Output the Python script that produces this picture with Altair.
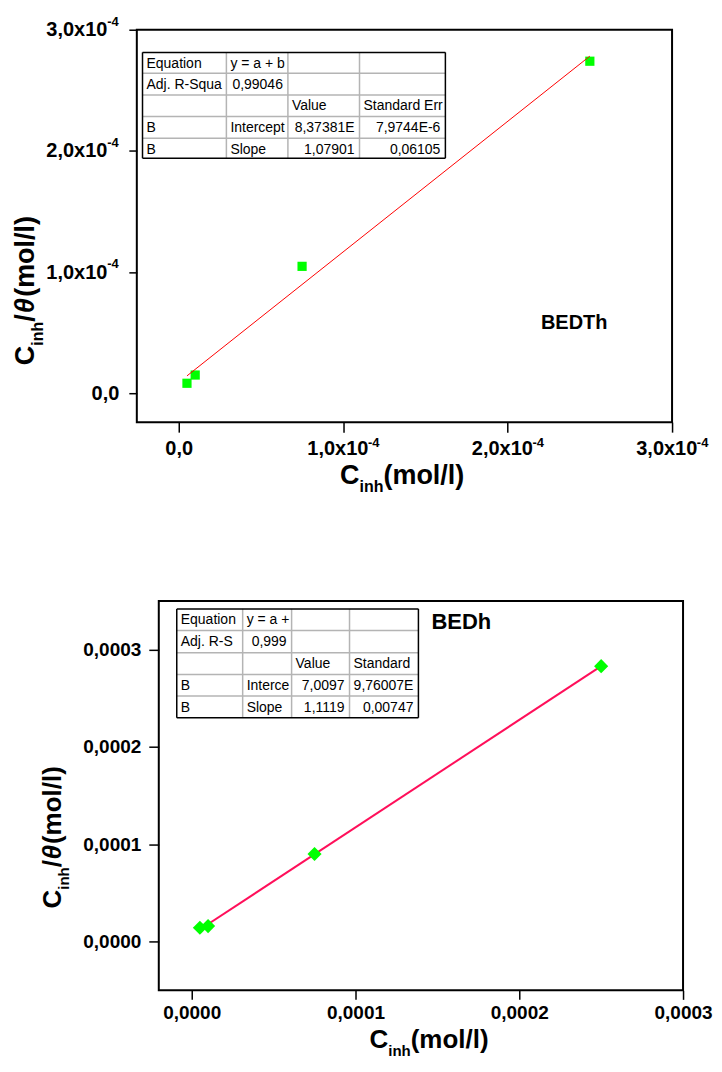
import json
import altair as alt
import pandas as pd

FONT = "Liberation Sans"

# ---------------- data ----------------
c_inh = [5.0e-6, 1.0e-5, 7.5e-5, 2.5e-4]
bedth_ratio = [8.2e-6, 1.5e-5, 1.047e-4, 2.74e-4]
bedh_ratio = [1.43e-5, 1.6e-5, 9.0e-5, 2.83e-4]

top_ticks = [0, 1e-4, 2e-4, 3e-4]
top_tick_labels = ["0,0", "1,0x10", "2,0x10", "3,0x10"]
top_tick_exps = ["", "-4", "-4", "-4"]
bot_ticks = [0, 1e-4, 2e-4, 3e-4]
bot_tick_labels = ["0,0000", "0,0001", "0,0002", "0,0003"]

top_table = [
    ["Equation", "y = a + b", "", ""],
    ["Adj. R-Squa", "0,99046", "", ""],
    ["", "", "Value", "Standard Err"],
    ["B", "Intercept", "8,37381E", "7,9744E-6"],
    ["B", "Slope", "1,07901", "0,06105"],
]
bot_table = [
    ["Equation", "y = a +", "", ""],
    ["Adj. R-S", "0,999", "", ""],
    ["", "", "Value", "Standard"],
    ["B", "Interce", "7,0097", "9,76007E"],
    ["B", "Slope", "1,1119", "0,00747"],
]
top_name = "BEDTh"
bot_name = "BEDh"

# ---------------- layout (pixels) ----------------
TOP_W, TOP_H = 536, 393
BOT_W, BOT_H = 525, 390
TOP_XDOM = [-2.55e-5, 3e-4]
TOP_YDOM = [-2.39e-5, 3e-4]
BOT_XDOM = [-2.01e-5, 3e-4]
BOT_YDOM = [-5e-5, 3.5e-4]

TOP_COLS = [5.7, 89.7, 151.3, 223, 309]
TOP_ROWS = [22.7, 43.7, 65.3, 87, 108.7, 128.7]
BOT_COLS = [18, 84, 133, 191, 260]
BOT_ROWS = [8, 29.7, 52, 73.7, 95.3, 117]

ONE = pd.DataFrame({"a": [0]})


def piece(text, x, y, size, angle=0, style="normal", align="left",
          baseline="alphabetic", weight="bold"):
    return alt.Chart(ONE).mark_text(
        text=text, fontSize=size, angle=angle, align=align, baseline=baseline,
        font=FONT, fontWeight=weight, fontStyle=style, color="black"
    ).encode(x=alt.value(x), y=alt.value(y))


def table_layers(cells, cols, rows, size, base_off):
    inner, outer = [], []
    for i, yv in enumerate(rows):
        rec = dict(x=cols[0], x2=cols[-1], y=yv, y2=yv)
        (outer if i in (0, len(rows) - 1) else inner).append(rec)
    for j, xv in enumerate(cols):
        rec = dict(x=xv, x2=xv, y=rows[0], y2=rows[-1])
        (outer if j in (0, len(cols) - 1) else inner).append(rec)
    lefts, rights = [], []
    for i, row in enumerate(cells):
        for j, t in enumerate(row):
            if not t:
                continue
            yv = rows[i] + base_off
            if t[0].isdigit():
                rights.append(dict(x=cols[j + 1] - 5, y=yv, t=t))
            else:
                lefts.append(dict(x=cols[j] + 4, y=yv, t=t))

    def rules(recs, color, w):
        return alt.Chart(pd.DataFrame(recs)).mark_rule(color=color, strokeWidth=w).encode(
            x=alt.X("x:Q", scale=None, axis=None), x2="x2:Q",
            y=alt.Y("y:Q", scale=None, axis=None), y2="y2:Q")

    def texts(recs, align):
        return alt.Chart(pd.DataFrame(recs)).mark_text(
            align=align, baseline="alphabetic", font=FONT, fontSize=size, color="black"
        ).encode(x=alt.X("x:Q", scale=None, axis=None),
                 y=alt.Y("y:Q", scale=None, axis=None), text="t:N")

    return [rules(inner, "#b4b4b4", 1.5), rules(outer, "#000000", 1.5),
            texts(lefts, "left"), texts(rights, "right")]


def label_expr(labels):
    return json.dumps(labels, ensure_ascii=False) + "[round(datum.value*10000)]"


def make_axis(ticks, labels, size, tick, pad, offset=0):
    return alt.Axis(values=ticks, labelExpr=label_expr(labels), title=None,
                    grid=False, domain=False, tickSize=tick, tickWidth=1.5,
                    tickColor="black", labelFont=FONT, labelFontSize=size,
                    labelFontWeight="bold", labelColor="black", labelPadding=pad,
                    labelOffset=offset,
                    labelOverlap=False, labelFlush=False, labelBound=False)


def spacer(w):
    return alt.Chart(ONE).mark_rule(strokeWidth=0, opacity=0).encode(
        x=alt.value(0), x2=alt.value(w), y=alt.value(0)
    ).properties(width=w, height=1)


# ---------------- top panel ----------------
top_df = pd.DataFrame({"c": c_inh, "v": bedth_ratio})
tx = alt.Scale(domain=TOP_XDOM, nice=False, zero=False)
ty = alt.Scale(domain=TOP_YDOM, nice=False, zero=False)
is_zero = "datum.value === 0"
x_off = {"condition": {"test": is_zero, "value": 0}, "value": -5.8}
y_pad = {"condition": {"test": is_zero, "value": 10}, "value": 22}
top_xaxis = make_axis(top_ticks, top_tick_labels, 20, 10, 6, x_off)
top_yaxis = make_axis(top_ticks, top_tick_labels, 20, 8, y_pad)

top_pts = alt.Chart(top_df).mark_point(
    shape="square", size=85, filled=True, color="#00ff00", opacity=1
).encode(
    x=alt.X("c:Q", scale=tx, axis=top_xaxis),
    y=alt.Y("v:Q", scale=ty, axis=top_yaxis),
)
top_fit = alt.Chart(top_df).transform_regression("c", "v").mark_line(
    color="#ff0000", strokeWidth=1).encode(x="c:Q", y="v:Q")

exp_df_x = pd.DataFrame({"c": top_ticks, "s": top_tick_exps})
exp_df_y = pd.DataFrame({"v": top_ticks, "s": top_tick_exps})
top_exp_x = alt.Chart(exp_df_x).mark_text(
    align="left", baseline="alphabetic", dx=24.8, font=FONT, fontSize=13,
    fontWeight="bold", color="black"
).encode(x=alt.X("c:Q", scale=tx, axis=top_xaxis), y=alt.value(418), text="s:N")
top_exp_y = alt.Chart(exp_df_y).mark_text(
    align="right", baseline="alphabetic", dy=-4, font=FONT, fontSize=13,
    fontWeight="bold", color="black"
).encode(y=alt.Y("v:Q", scale=ty, axis=top_yaxis), x=alt.value(-18), text="s:N")

top_anchor = alt.Chart(ONE).mark_rule(strokeWidth=0, opacity=0).encode(
    x=alt.value(-127), y=alt.value(-20), y2=alt.value(493))

top_titles = [
    piece("C", -102.5, 336, 27, angle=270),
    piece("inh", -94, 316.5, 16, angle=270),
    piece("/", -102.5, 292.5, 27, angle=270),
    piece("θ", -102.5, 284, 27, angle=270, style="italic"),
    piece("(mol/l)", -102.5, 267.5, 27, angle=270),
    piece("C", 203.5, 455, 27),
    piece("inh", 223, 463, 16),
    piece("(mol/l)", 247, 455, 27),
    piece(top_name, 438, 294, 20, align="center", baseline="middle"),
]

top_panel = alt.layer(
    top_anchor, *table_layers(top_table, TOP_COLS, TOP_ROWS, 14, 15.5),
    top_pts, top_fit, top_exp_x, top_exp_y, *top_titles
).properties(width=TOP_W, height=TOP_H,
             view=alt.ViewBackground(stroke="black", strokeWidth=2))

# ---------------- bottom panel ----------------
bot_df = pd.DataFrame({"c": c_inh, "v": bedh_ratio})
bx = alt.Scale(domain=BOT_XDOM, nice=False, zero=False)
by = alt.Scale(domain=BOT_YDOM, nice=False, zero=False)
bot_pts = alt.Chart(bot_df).mark_point(
    shape="diamond", size=200, filled=True, color="#00ff00", opacity=1
).encode(
    x=alt.X("c:Q", scale=bx, axis=make_axis(bot_ticks, bot_tick_labels, 19, 9, 4)),
    y=alt.Y("v:Q", scale=by, axis=make_axis(bot_ticks, bot_tick_labels, 19, 10, 8)),
)
bot_fit = alt.Chart(bot_df).transform_regression("c", "v").mark_line(
    color="#ff0f5a", strokeWidth=2).encode(x="c:Q", y="v:Q")

bot_anchor = alt.Chart(ONE).mark_rule(strokeWidth=0, opacity=0).encode(
    x=alt.value(-127), y=alt.value(-5), y2=alt.value(300))

bot_titles = [
    piece("C", -98, 308, 26, angle=270),
    piece("inh", -90, 289.2, 15, angle=270),
    piece("/", -98, 266.7, 26, angle=270),
    piece("θ", -98, 259, 26, angle=270, style="italic"),
    piece("(mol/l)", -98, 243.5, 26, angle=270),
    piece("C", 211, 448, 26),
    piece("inh", 229.8, 456, 15),
    piece("(mol/l)", 252.3, 448, 26),
    piece(bot_name, 273, 28, 22),
]

bot_panel = alt.layer(
    bot_anchor, *table_layers(bot_table, BOT_COLS, BOT_ROWS, 14, 15.5),
    bot_fit, bot_pts, *bot_titles
).properties(width=BOT_W, height=BOT_H,
             view=alt.ViewBackground(stroke="black", strokeWidth=2))

chart = alt.vconcat(
    alt.hconcat(spacer(1), top_panel, spacing=0),
    alt.hconcat(spacer(23), bot_panel, spacing=0),
    spacing=72,
).properties(
    padding={"left": 0, "top": 0, "right": 0, "bottom": 0},
    background="white",
).configure_view(stroke=None)

chart.save("out.html", embed_options={"renderer": "svg", "actions": False})
